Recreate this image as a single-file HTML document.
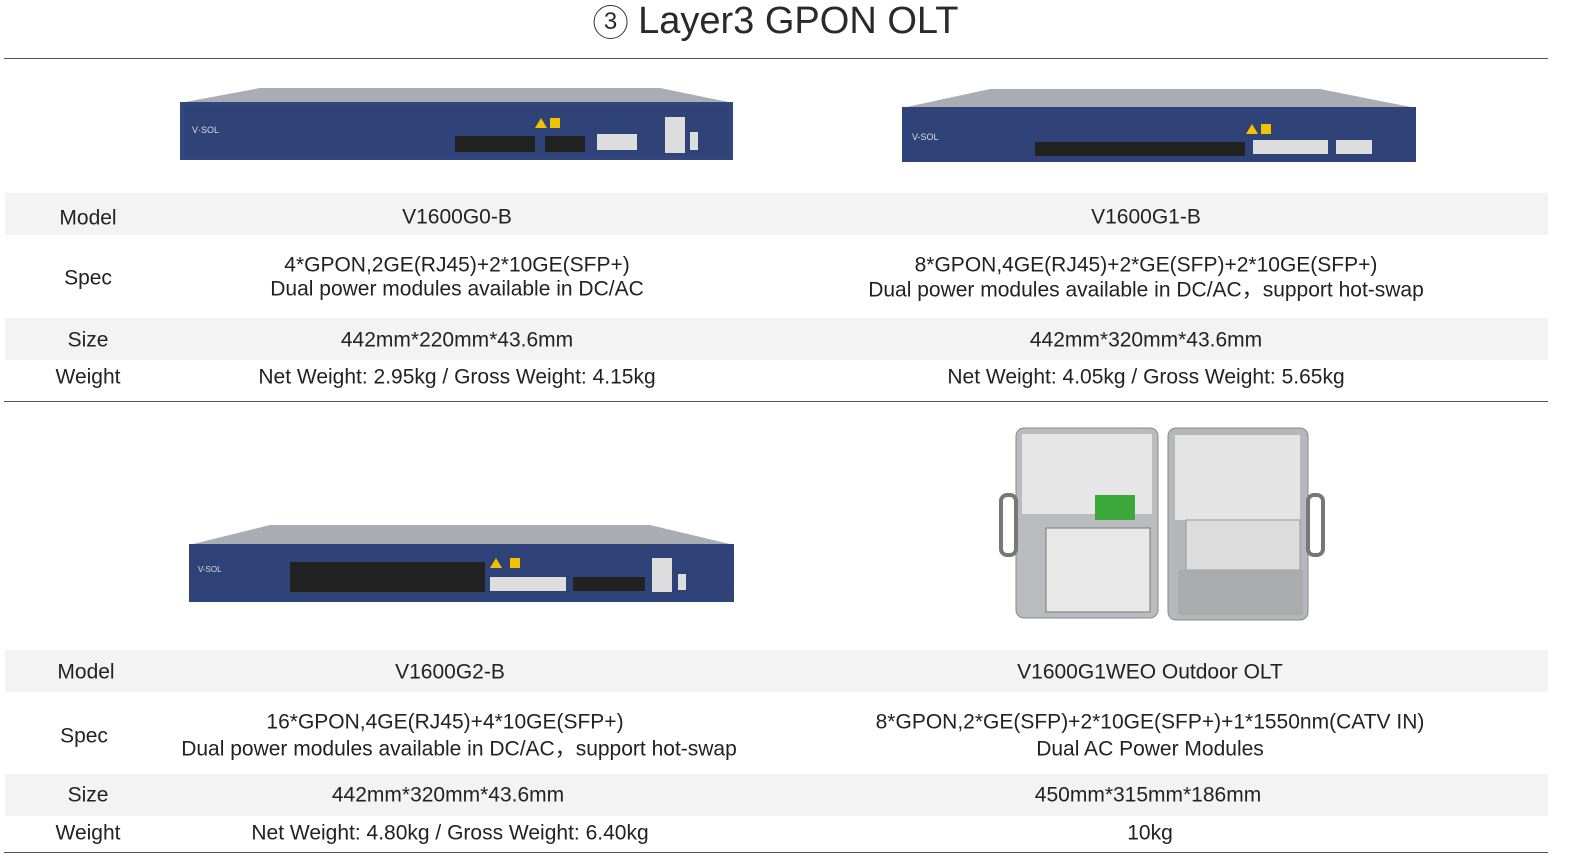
<!DOCTYPE html>
<html><head><meta charset="utf-8"><style>
body{margin:0;background:#fff;width:1581px;height:863px;position:relative;overflow:hidden;font-family:"Liberation Sans","Noto Sans CJK SC",sans-serif;color:#222}
.t{position:absolute;font-size:21px;white-space:nowrap;transform:translate(-50%,-50%);line-height:1}
.s{position:absolute;left:5px;width:1543px;background:#f3f3f3}
.l{position:absolute;left:4px;width:1544px;height:1px;background:#555}
</style></head><body>
<div class="t" style="left:776px;top:21px;font-size:38px;color:#2a2a2a"><span style="display:inline-block;width:32px;height:32px;border:1.5px solid #333;border-radius:50%;font-size:24px;line-height:32px;text-align:center;vertical-align:4px">3</span>&nbsp;Layer3 GPON OLT</div>
<div class="l" style="top:58px"></div>
<div class="s" style="top:193px;height:42px"></div>
<div class="s" style="top:318px;height:42px"></div>
<div class="l" style="top:401px"></div>
<div class="s" style="top:650px;height:42px"></div>
<div class="s" style="top:774px;height:42px"></div>
<div class="l" style="top:852px"></div>

<svg width="1581" height="863" style="position:absolute;left:0;top:0">
<polygon points="180,103 260,88 660,88 733,103" fill="#a9acb3"/>
<rect x="180" y="102" width="553" height="58" fill="#34477d"/>
<rect x="184" y="106" width="545" height="50" fill="#2f4378"/>
<rect x="455" y="136" width="80" height="16" fill="#222"/><rect x="545" y="136" width="40" height="16" fill="#222"/>
<rect x="597" y="134" width="40" height="16" fill="#ddd"/><rect x="665" y="117" width="20" height="36" fill="#ddd"/><rect x="690" y="132" width="8" height="18" fill="#ddd"/>
<polygon points="535,128 541,118 547,128" fill="#f2c200"/><rect x="550" y="118" width="10" height="10" fill="#f2c200"/>
<text x="192" y="133" font-size="9" fill="#ddd" font-family="Liberation Sans">V·SOL</text>
<polygon points="902,108 990,89 1320,89 1416,108" fill="#a9acb3"/>
<rect x="902" y="107" width="514" height="55" fill="#2f4378"/>
<rect x="1035" y="142" width="210" height="14" fill="#222"/>
<rect x="1253" y="140" width="75" height="14" fill="#ddd"/><rect x="1336" y="140" width="36" height="14" fill="#ddd"/>
<polygon points="1246,134 1252,124 1258,134" fill="#f2c200"/><rect x="1261" y="124" width="10" height="10" fill="#f2c200"/>
<text x="912" y="140" font-size="9" fill="#ddd" font-family="Liberation Sans">V-SOL</text>
<polygon points="189,545 270,525 650,525 734,545" fill="#a9acb3"/>
<rect x="189" y="544" width="545" height="58" fill="#2f4378"/>
<rect x="290" y="562" width="195" height="30" fill="#222"/>
<rect x="490" y="577" width="76" height="14" fill="#ddd"/><rect x="573" y="577" width="72" height="14" fill="#222"/>
<rect x="652" y="558" width="20" height="34" fill="#ddd"/><rect x="678" y="574" width="8" height="16" fill="#ddd"/>
<polygon points="490,568 496,558 502,568" fill="#f2c200"/><rect x="510" y="558" width="10" height="10" fill="#f2c200"/>
<text x="198" y="572" font-size="8" fill="#ddd" font-family="Liberation Sans">V-SOL</text>
<rect x="1016" y="428" width="142" height="190" rx="8" fill="#b9bbbe" stroke="#888"/>
<rect x="1022" y="434" width="130" height="80" fill="#e6e6e6"/>
<rect x="1046" y="528" width="104" height="84" fill="#e8e8e8" stroke="#777"/>
<rect x="1095" y="495" width="40" height="25" fill="#3ba83b"/>
<rect x="1168" y="428" width="140" height="192" rx="8" fill="#b5b7ba" stroke="#888"/>
<rect x="1175" y="435" width="125" height="85" fill="#e4e4e4"/>
<rect x="1186" y="520" width="114" height="50" fill="#dcdcdc" stroke="#999"/>
<rect x="1178" y="570" width="125" height="45" fill="#a9abad"/>
<rect x="1001" y="495" width="15" height="60" rx="6" fill="none" stroke="#777" stroke-width="4"/>
<rect x="1308" y="495" width="15" height="60" rx="6" fill="none" stroke="#777" stroke-width="4"/>
</svg>

<div class="t" style="left:88px;top:218px">Model</div>
<div class="t" style="left:457px;top:217px">V1600G0-B</div>
<div class="t" style="left:1146px;top:217px">V1600G1-B</div>
<div class="t" style="left:88px;top:278px">Spec</div>
<div class="t" style="left:457px;top:265px">4*GPON,2GE(RJ45)+2*10GE(SFP+)</div>
<div class="t" style="left:457px;top:289px">Dual power modules available in DC/AC</div>
<div class="t" style="left:1146px;top:265px">8*GPON,4GE(RJ45)+2*GE(SFP)+2*10GE(SFP+)</div>
<div class="t" style="left:1146px;top:290px">Dual power modules available in DC/AC，support hot-swap</div>
<div class="t" style="left:88px;top:340px">Size</div>
<div class="t" style="left:457px;top:340px">442mm*220mm*43.6mm</div>
<div class="t" style="left:1146px;top:340px">442mm*320mm*43.6mm</div>
<div class="t" style="left:88px;top:377px">Weight</div>
<div class="t" style="left:457px;top:377px">Net Weight: 2.95kg / Gross Weight: 4.15kg</div>
<div class="t" style="left:1146px;top:377px">Net Weight: 4.05kg / Gross Weight: 5.65kg</div>

<div class="t" style="left:86px;top:672px">Model</div>
<div class="t" style="left:450px;top:672px">V1600G2-B</div>
<div class="t" style="left:1150px;top:672px">V1600G1WEO Outdoor OLT</div>
<div class="t" style="left:84px;top:736px">Spec</div>
<div class="t" style="left:445px;top:722px">16*GPON,4GE(RJ45)+4*10GE(SFP+)</div>
<div class="t" style="left:459px;top:749px">Dual power modules available in DC/AC，support hot-swap</div>
<div class="t" style="left:1150px;top:722px">8*GPON,2*GE(SFP)+2*10GE(SFP+)+1*1550nm(CATV IN)</div>
<div class="t" style="left:1150px;top:749px">Dual AC Power Modules</div>
<div class="t" style="left:88px;top:795px">Size</div>
<div class="t" style="left:448px;top:795px">442mm*320mm*43.6mm</div>
<div class="t" style="left:1148px;top:795px">450mm*315mm*186mm</div>
<div class="t" style="left:88px;top:833px">Weight</div>
<div class="t" style="left:450px;top:833px">Net Weight: 4.80kg / Gross Weight: 6.40kg</div>
<div class="t" style="left:1150px;top:833px">10kg</div>
</body></html>
